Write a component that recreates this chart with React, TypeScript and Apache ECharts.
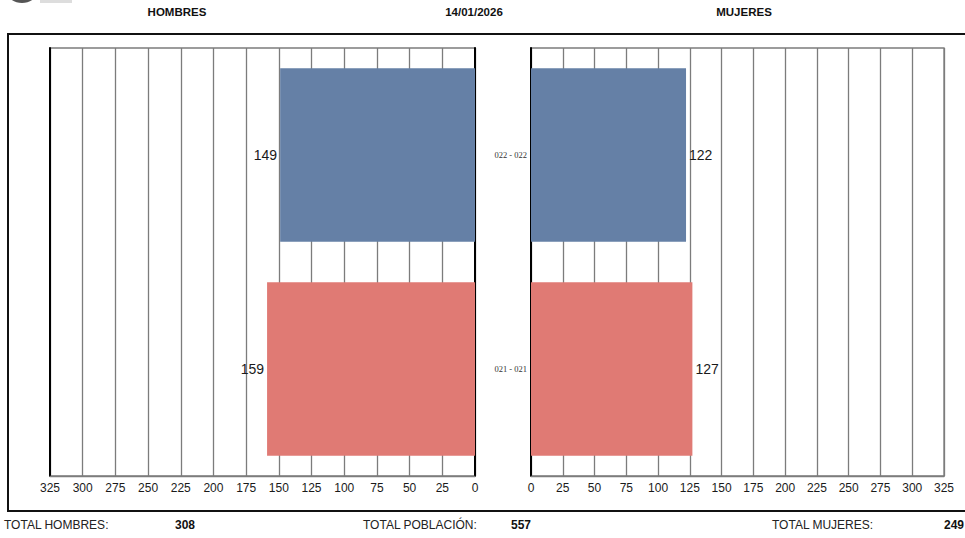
import React, { useEffect, useRef } from "react";
import * as echarts from "echarts";

const categories = ["021 - 021", "022 - 022"];
const hombres = [159, 149];
const mujeres = [127, 122];
const barColors = ["#e07a74", "#6580a6"];
const axisMax = 325;
const axisStep = 25;
const dateLabel = "14/01/2026";

const FONT = "'Liberation Sans', Arial, sans-serif";

export default function App() {
  const ref = useRef<HTMLDivElement>(null);
  useEffect(() => {
    if (!ref.current) return;
    const chart = echarts.init(ref.current, null, { renderer: "svg" });
    const totalH = hombres.reduce((a, b) => a + b, 0);
    const totalM = mujeres.reduce((a, b) => a + b, 0);
    const total = totalH + totalM;
    const gridLine = { show: true, lineStyle: { color: "#7c7c7c", width: 1.3 } };
    const xCommon = {
      type: "value",
      min: 0,
      max: axisMax,
      interval: axisStep,
      axisLine: { show: true, lineStyle: { color: "#7c7c7c", width: 1.3 } },
      axisTick: { show: false },
      axisLabel: { color: "#1a1a1a", fontSize: 12, fontFamily: FONT, margin: 6 },
      splitLine: gridLine,
    };
    const yHidden = {
      type: "category",
      data: categories,
      axisTick: { show: false },
      axisLabel: { show: false },
      axisLine: { show: true, lineStyle: { color: "#000", width: 2 } },
    };
    chart.setOption({
      animation: false,
      backgroundColor: "#fff",
      grid: [
        { left: 50, right: 490, top: 48, bottom: 62, show: true, borderColor: "#7c7c7c", borderWidth: 1.3 },
        { left: 531, right: 21, top: 48, bottom: 62, show: true, borderColor: "#7c7c7c", borderWidth: 1.3 },
      ],
      xAxis: [
        { ...xCommon, gridIndex: 0, inverse: true },
        { ...xCommon, gridIndex: 1 },
      ],
      yAxis: [
        { ...yHidden, gridIndex: 0, position: "right" },
        { ...yHidden, gridIndex: 0, position: "left" },
        {
          ...yHidden,
          gridIndex: 1,
          position: "left",
          axisLabel: {
            show: true,
            color: "#333",
            fontSize: 8.5,
            fontFamily: "'Liberation Serif', 'Times New Roman', serif",
            margin: 4,
          },
        },
      ],
      series: [
        {
          type: "bar",
          xAxisIndex: 0,
          yAxisIndex: 0,
          barCategoryGap: "19%",
          data: hombres.map((v, i) => ({ value: v, itemStyle: { color: barColors[i] } })),
          label: { show: true, position: "left", distance: 3, color: "#1a1a1a", fontSize: 14, fontFamily: FONT },
        },
        {
          type: "bar",
          xAxisIndex: 1,
          yAxisIndex: 2,
          barCategoryGap: "19%",
          data: mujeres.map((v, i) => ({ value: v, itemStyle: { color: barColors[i] } })),
          label: { show: true, position: "right", distance: 3, color: "#1a1a1a", fontSize: 14, fontFamily: FONT },
        },
      ],
      graphic: [
        { type: "ellipse", shape: { cx: 22, cy: -14, rx: 18, ry: 17 }, style: { fill: "#555" } },
        { type: "rect", shape: { x: 40, y: 0, width: 32, height: 3 }, style: { fill: "#ddd" } },
        { type: "rect", shape: { x: 8, y: 34, width: 970, height: 477 }, style: { fill: "none", stroke: "#111", lineWidth: 2 } },
        { type: "text", x: 177, y: 12, style: { text: "HOMBRES", font: `bold 11.5px ${FONT}`, fill: "#111", align: "center", verticalAlign: "middle" } },
        { type: "text", x: 474, y: 12, style: { text: dateLabel, font: `bold 11.5px ${FONT}`, fill: "#111", align: "center", verticalAlign: "middle" } },
        { type: "text", x: 744, y: 12, style: { text: "MUJERES", font: `bold 11.5px ${FONT}`, fill: "#111", align: "center", verticalAlign: "middle" } },
        { type: "text", x: 4, y: 525, style: { text: "TOTAL HOMBRES:", font: `12px ${FONT}`, fill: "#222", verticalAlign: "middle" } },
        { type: "text", x: 175, y: 525, style: { text: String(totalH), font: `bold 12px ${FONT}`, fill: "#111", verticalAlign: "middle" } },
        { type: "text", x: 363, y: 525, style: { text: "TOTAL POBLACIÓN:", font: `12px ${FONT}`, fill: "#222", verticalAlign: "middle" } },
        { type: "text", x: 511, y: 525, style: { text: String(total), font: `bold 12px ${FONT}`, fill: "#111", verticalAlign: "middle" } },
        { type: "text", x: 772, y: 525, style: { text: "TOTAL MUJERES:", font: `12px ${FONT}`, fill: "#222", verticalAlign: "middle" } },
        { type: "text", x: 944, y: 525, style: { text: String(totalM), font: `bold 12px ${FONT}`, fill: "#111", verticalAlign: "middle" } },
      ],
    });
    return () => chart.dispose();
  }, []);
  return (
    <div
      ref={ref}
      style={{ position: "fixed", left: 0, top: 0, width: 965, height: 538, background: "#fff" }}
    />
  );
}
